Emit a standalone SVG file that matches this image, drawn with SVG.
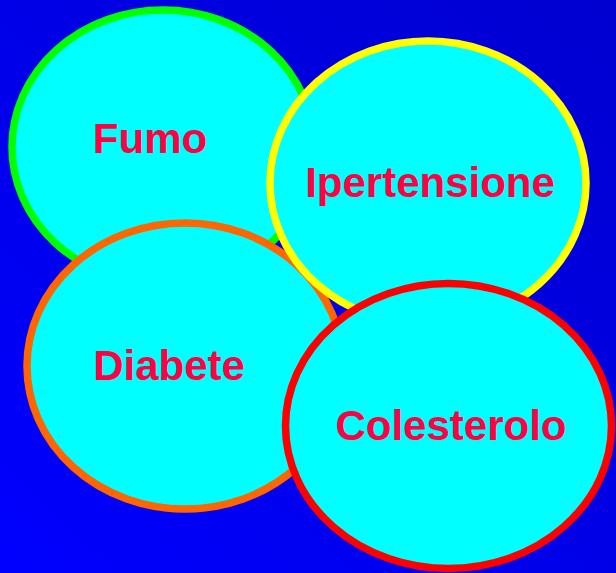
<svg xmlns="http://www.w3.org/2000/svg" width="616" height="573" viewBox="0 0 616 573">
<defs>
<linearGradient id="bg" x1="0" y1="1" x2="1" y2="0">
<stop offset="0" stop-color="#0000ff"/>
<stop offset="1" stop-color="#0000d0"/>
</linearGradient>
</defs>
<style>
.node ellipse{fill:#00ffff;stroke-width:7.5}
.node text{font-family:"Liberation Sans",Arial,sans-serif;font-weight:bold;font-size:42px;fill:#ff0040;text-anchor:middle}
</style>
<rect x="0" y="0" width="616" height="573" fill="url(#bg)"/>
<g id="connectors"></g>
<g id="fumo" class="node">
<ellipse cx="163" cy="147" rx="151" ry="137" stroke="#00ff00"/>
<text x="150" y="153">Fumo</text>
</g>
<g id="diabete" class="node">
<ellipse cx="185" cy="366" rx="158" ry="143" stroke="#ff6600"/>
<text x="169" y="380">Diabete</text>
</g>
<g id="ipertensione" class="node">
<ellipse cx="428" cy="183" rx="158" ry="142" stroke="#ffff00"/>
<text x="430" y="197">Ipertensione</text>
</g>
<g id="colesterolo" class="node">
<ellipse cx="448.5" cy="426" rx="163" ry="142.5" stroke="#ff0000"/>
<text x="451" y="440">Colesterolo</text>
</g>
</svg>
